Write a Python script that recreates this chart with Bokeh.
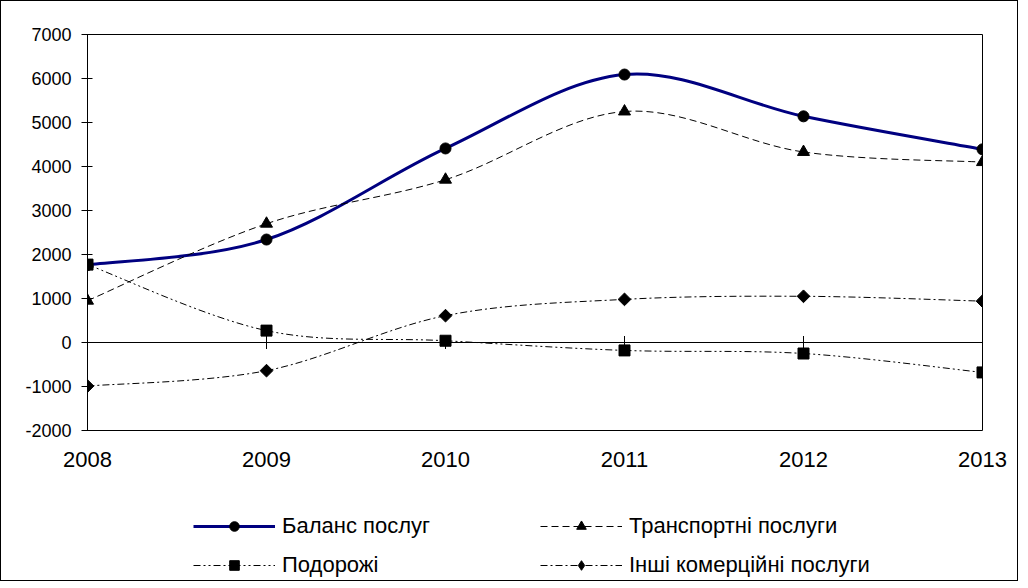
import numpy as np
from bokeh.plotting import figure
from bokeh.layouts import column
from bokeh.models import Range1d, FixedTicker, Legend, LegendItem, Span
from bokeh.embed import file_html
from bokeh.resources import INLINE

# ---- data ----
years = [2008, 2009, 2010, 2011, 2012, 2013]
balance = [1760, 2340, 4410, 6090, 5140, 4390]      # Баланс послуг
transport = [950, 2700, 3700, 5250, 4330, 4100]     # Транспортні послуги
travel = [1770, 270, 40, -180, -250, -680]          # Подорожі
other = [-990, -640, 610, 980, 1050, 940]           # Інші комерційні послуги
y_ticks = [-2000, -1000, 0, 1000, 2000, 3000, 4000, 5000, 6000, 7000]
y_tick_labels = {t: str(t) for t in y_ticks}
names = ["Баланс послуг", "Транспортні послуги", "Подорожі", "Інші комерційні послуги"]

FONT = "Liberation Sans"


def smooth_segments(xs, ys):
    """Catmull-Rom style Bezier control points (Excel 'smoothed line')."""
    x = np.asarray(xs, float)
    y = np.asarray(ys, float)
    n = len(x)
    xp = np.concatenate([[x[0]], x, [x[-1]]])
    yp = np.concatenate([[y[0]], y, [y[-1]]])
    return dict(
        x0=xp[1:n], y0=yp[1:n], x1=xp[2:n + 1], y1=yp[2:n + 1],
        cx0=xp[1:n] + (xp[2:n + 1] - xp[0:n - 1]) / 6.0,
        cy0=yp[1:n] + (yp[2:n + 1] - yp[0:n - 1]) / 6.0,
        cx1=xp[2:n + 1] - (xp[3:n + 2] - xp[1:n]) / 6.0,
        cy1=yp[2:n + 1] - (yp[3:n + 2] - yp[1:n]) / 6.0,
    )


p = figure(width=1016, height=494, output_backend="svg", toolbar_location=None,
           x_range=Range1d(2008, 2013), y_range=Range1d(-2000, 7000),
           min_border_left=86, min_border_top=33, min_border_right=35, min_border_bottom=65)
p.background_fill_color = "white"
p.border_fill_color = "white"
p.outline_line_color = "black"
p.outline_line_width = 1
p.xgrid.visible = False
p.ygrid.visible = False

# y axis
ya = p.yaxis[0]
ya.ticker = FixedTicker(ticks=y_ticks)
ya.major_label_overrides = y_tick_labels
ya.major_tick_in = 5
ya.major_tick_out = 6
ya.minor_tick_line_color = None
ya.axis_line_color = "black"
ya.major_tick_line_color = "black"
ya.major_label_text_font = FONT
ya.major_label_text_font_size = "18px"
ya.major_label_text_color = "black"
ya.major_label_standoff = 10

# x axis (labels only, at bottom)
xa = p.xaxis[0]
xa.ticker = FixedTicker(ticks=years)
xa.major_tick_in = 0
xa.major_tick_out = 0
xa.minor_tick_line_color = None
xa.axis_line_color = None
xa.major_label_text_font = FONT
xa.major_label_text_font_size = "22px"
xa.major_label_text_color = "black"
xa.major_label_standoff = 21

# zero line with category tick marks
p.add_layout(Span(location=0, dimension="width", line_color="black", line_width=1))
p.scatter(years, [0] * len(years), marker="dash", angle=np.pi / 2, size=13,
          line_color="black", line_width=1)

# legend figure below the chart (its frame is aligned with the chart frame)
p2 = figure(width=1016, height=85, output_backend="svg", toolbar_location=None,
            x_range=Range1d(0, 1), y_range=Range1d(0, 1),
            x_axis_location=None, y_axis_location=None, min_border=0)
p2.outline_line_color = None
p2.xgrid.visible = False
p2.ygrid.visible = False
p2.background_fill_color = "white"
p2.border_fill_color = "white"

# (values, colour, width, dash, plot marker, size, angle, legend marker)
series = [
    (balance, "#000080", 3, "solid", "circle", 11, 0.0, "circle"),
    (transport, "black", 1, "7 4", "triangle", 12, 0.0, "triangle"),
    (travel, "black", 1, "7 3 2 3 2 3", "square", 11, 0.0, "square"),
    (other, "black", 1, "7 3 2 3", "square", 9, np.pi / 4, "diamond"),
]

items = []
for (vals, color, lw, dash, marker, msize, ang, lmarker), name in zip(series, names):
    seg = smooth_segments(years, vals)
    p.bezier(x0=seg["x0"], y0=seg["y0"], x1=seg["x1"], y1=seg["y1"],
             cx0=seg["cx0"], cy0=seg["cy0"], cx1=seg["cx1"], cy1=seg["cy1"],
             line_color=color, line_width=lw, line_dash=dash)
    p.scatter(years, vals, marker=marker, size=msize, angle=ang,
              fill_color="black", line_color="black")
    # legend samples: same series in the legend figure (its ranges keep them out of view)
    leg_line = p2.line(x=years, y=vals, line_color=color, line_width=lw, line_dash=dash)
    leg_mark = p2.scatter(x=years, y=vals, marker=lmarker,
                          fill_color="black", line_color="black")
    items.append(LegendItem(label=name, renderers=[leg_line, leg_mark]))

legend = Legend(items=items, location=(106, 2), orientation="horizontal", ncols=2,
                border_line_color=None, background_fill_alpha=0,
                padding=0, margin=0, spacing=13,
                glyph_width=82, glyph_height=24, label_standoff=7, label_width=245,
                label_text_font=FONT, label_text_font_size="22px",
                label_text_color="black")
p2.add_layout(legend, "center")

layout = column(p, p2, spacing=0)
layout.styles = {"border": "1px solid black"}

open("out.html", "w").write(file_html(layout, INLINE))
